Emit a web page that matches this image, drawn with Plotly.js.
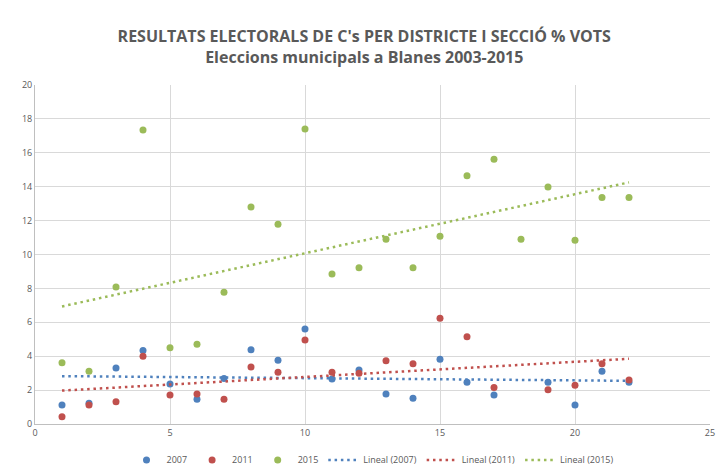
<!DOCTYPE html>
<html>
<head>
<meta charset="utf-8">
<script src="https://cdn.plot.ly/plotly-3.0.1.min.js"></script>
<style>html,body{margin:0;padding:0;background:#fff;}#chart{width:717px;height:470px;}</style>
</head>
<body>
<div id="chart"></div>
<script>
const sections = [1,2,3,4,5,6,7,8,9,10,11,12,13,14,15,16,17,18,19,20,21,22];
const votes2007 = [1.12,1.22,3.30,4.33,2.36,1.46,2.69,4.38,3.76,5.60,2.65,3.19,1.77,1.52,3.82,2.46,1.71,null,2.46,1.12,3.11,2.46];
const votes2011 = [0.43,1.12,1.32,3.99,1.71,1.77,1.46,3.36,3.05,4.96,3.05,2.99,3.73,3.56,6.24,5.15,2.16,null,2.02,2.28,3.56,2.60];
const votes2015 = [3.62,3.11,8.08,17.35,4.50,4.70,7.77,12.80,11.78,17.40,8.85,9.22,10.90,9.22,11.07,14.65,15.62,10.90,13.98,10.84,13.37,13.37];
const seriesNames = ['2007','2011','2015'];
const trendNames = ['Lineal (2007)','Lineal (2011)','Lineal (2015)'];
const colors = ['#4f81bd','#c0504d','#9bbb59'];

function linFit(xs, ys){
  let n=0,sx=0,sy=0,sxx=0,sxy=0;
  for(let i=0;i<xs.length;i++){
    if(ys[i]===null) continue;
    n++; sx+=xs[i]; sy+=ys[i]; sxx+=xs[i]*xs[i]; sxy+=xs[i]*ys[i];
  }
  const b=(n*sxy-sx*sy)/(n*sxx-sx*sx);
  const a=(sy-b*sx)/n;
  return xs.map(x=>a+b*x);
}

const all=[votes2007,votes2011,votes2015];
const traces=[];
all.forEach((ys,i)=>{
  traces.push({x:sections,y:ys,type:'scatter',mode:'markers',name:seriesNames[i],
    marker:{color:colors[i],size:7},showlegend:true});
});
all.forEach((ys,i)=>{
  traces.push({x:sections,y:linFit(sections,ys),type:'scatter',mode:'lines',name:trendNames[i],
    line:{color:colors[i],width:2.5,dash:'2.5px,3.8px'}});
});

const layout={
  width:717,height:470,
  margin:{l:35,r:7,t:85,b:46,autoexpand:false},
  paper_bgcolor:'#fff',plot_bgcolor:'#fff',
  font:{family:'"Open Sans", "Liberation Sans", sans-serif',color:'#595959'},
  title:{text:"<b>RESULTATS ELECTORALS DE C's PER DISTRICTE I SECCIÓ % VOTS</b><br><b>Eleccions municipals a Blanes 2003-2015</b>",
    font:{size:16,color:'#595959'},x:0.508,xanchor:'center',y:0.91,yanchor:'top'},
  xaxis:{range:[0,25],dtick:5,tick0:0,showgrid:true,gridcolor:'#d9d9d9',gridwidth:1,
    zeroline:false,showline:true,linecolor:'#bfbfbf',linewidth:1,ticks:'',
    tickfont:{size:9,color:'#595959'},fixedrange:true},
  yaxis:{range:[0,20],dtick:2,tick0:0,showgrid:true,gridcolor:'#d9d9d9',gridwidth:1,
    zeroline:false,showline:true,linecolor:'#bfbfbf',linewidth:1,ticks:'',
    tickfont:{size:9,color:'#595959'},fixedrange:true},
  legend:{orientation:'h',x:0.5,xanchor:'center',y:-0.106,yanchor:'middle',
    font:{size:9,color:'#595959'},itemwidth:30,tracegroupgap:0},
  showlegend:true
};
Plotly.newPlot('chart',traces,layout,{displayModeBar:false,staticPlot:true});
</script>
</body>
</html>
